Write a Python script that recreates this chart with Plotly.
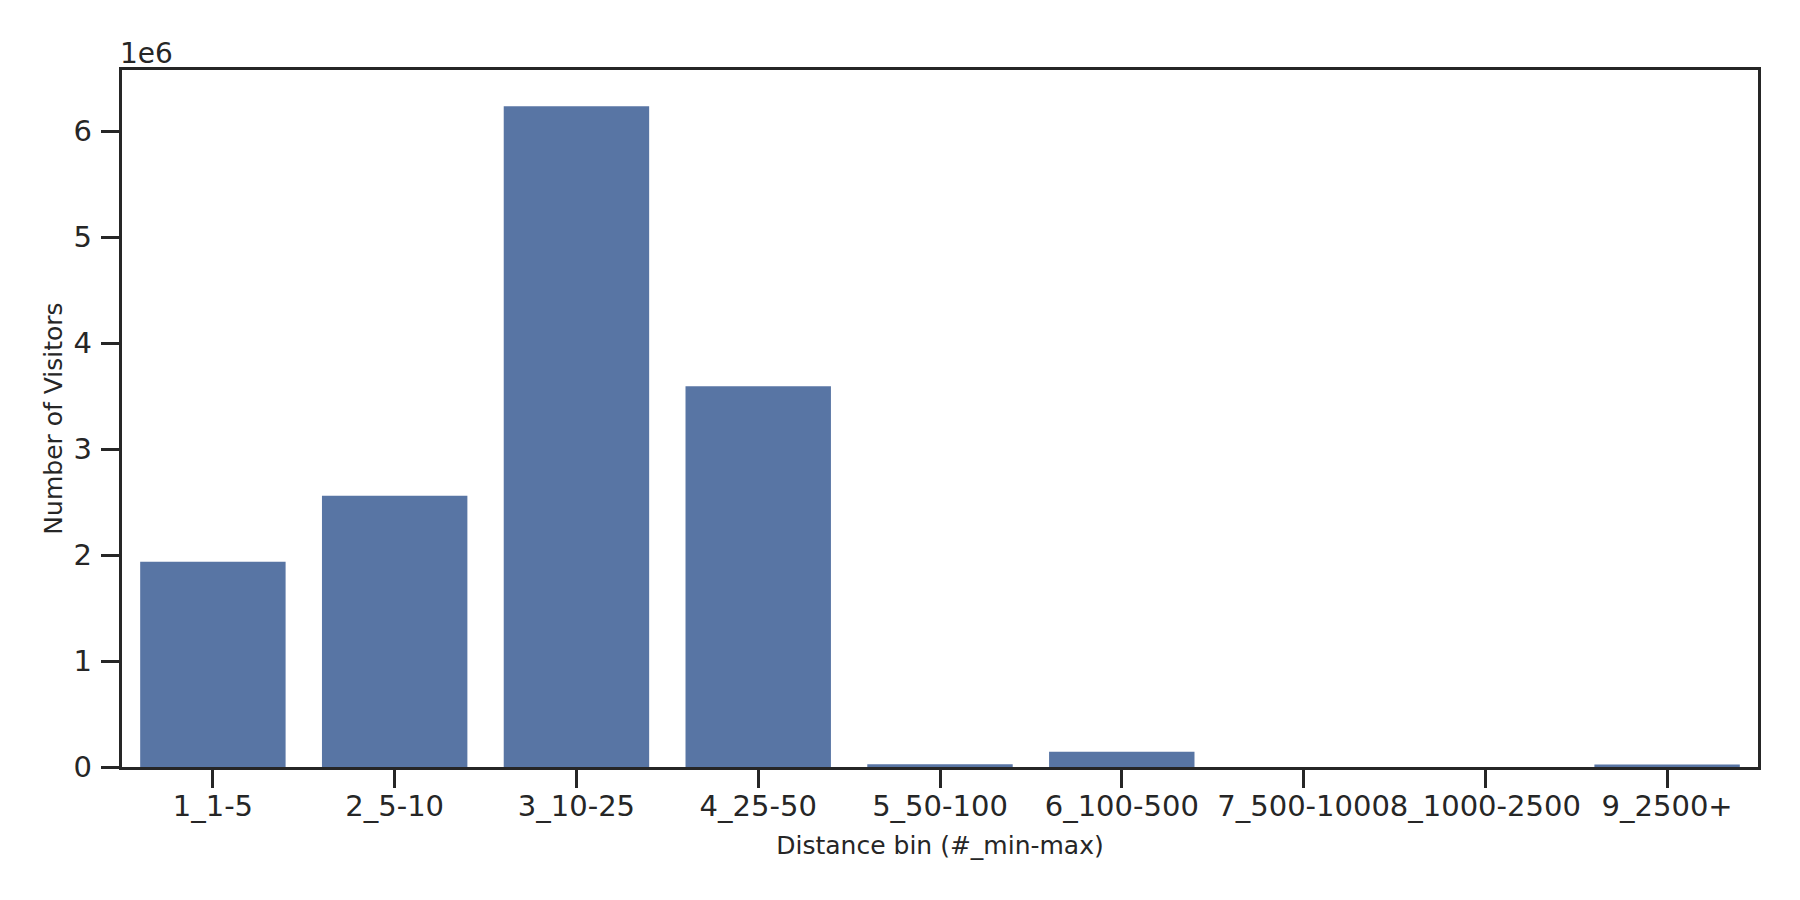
import plotly.graph_objects as go

# distance bins and visitor counts
distance_bins = ["1_1-5", "2_5-10", "3_10-25", "4_25-50", "5_50-100",
                 "6_100-500", "7_500-1000", "8_1000-2500", "9_2500+"]
num_visitors = [1938000, 2560000, 6236000, 3595000, 25000,
                143000, 0, 0, 24000]

y_ticks = [0, 1e6, 2e6, 3e6, 4e6, 5e6, 6e6]
y_tick_text = ["0", "1", "2", "3", "4", "5", "6"]

ink = "#262626"
font_name = "DejaVu Sans"

fig = go.Figure()
fig.add_trace(go.Bar(x=distance_bins, y=num_visitors,
                     marker=dict(color="#5875a4", line=dict(width=0)),
                     width=0.8))

# margins allow for the 8px body margin of the html page
fig.update_layout(
    width=1800, height=900,
    margin=dict(l=114, r=50, t=62, b=141),
    plot_bgcolor="white", paper_bgcolor="white",
    font=dict(family=font_name, color=ink, size=29),
    showlegend=False,
)

fig.update_xaxes(
    type="category", range=[-0.5, 8.5],
    showline=True, linewidth=3.4, linecolor=ink, mirror=True,
    ticks="outside", ticklen=18, tickwidth=3.3, tickcolor=ink,
    tickangle=0, ticklabelstandoff=-7, automargin=False,
    showgrid=False, zeroline=False,
    tickfont=dict(size=29),
    title=dict(text="Distance bin (#_min-max)", font=dict(size=25), standoff=15),
)

fig.update_yaxes(
    range=[0, max(num_visitors) * 1.055],
    tickvals=y_ticks, ticktext=y_tick_text,
    showline=True, linewidth=3.4, linecolor=ink, mirror=True,
    ticks="outside", ticklen=18, tickwidth=3.3, tickcolor=ink,
    ticklabelstandoff=3, automargin=False,
    showgrid=False, zeroline=False,
    tickfont=dict(size=29),
    title=dict(text="Number of Visitors", font=dict(size=25), standoff=4),
)

# matplotlib-style offset text
fig.add_annotation(text="1e6", xref="paper", yref="paper", x=0, y=1,
                   xanchor="left", yanchor="bottom", xshift=-4, yshift=-2,
                   showarrow=False, font=dict(size=28, color=ink))

fig.write_html("out.html")
